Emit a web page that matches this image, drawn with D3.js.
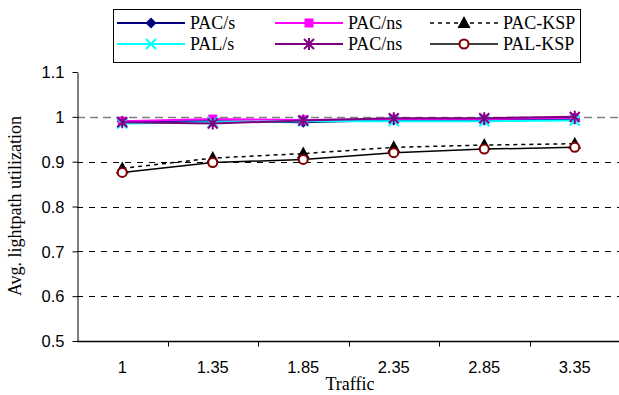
<!DOCTYPE html>
<html>
<head>
<meta charset="utf-8">
<script src="https://cdn.jsdelivr.net/npm/d3@7"></script>
<style>
  body { margin: 0; background: #fff; }
  svg { display: block; }
  .tick-label { font-family: "Liberation Sans", Arial, sans-serif; font-size: 16.5px; fill: #000; }
  .serif { font-family: "Liberation Serif", "Times New Roman", serif; font-size: 18px; fill: #000; }
</style>
</head>
<body>
<svg id="chart" width="619" height="395"></svg>
<script>
// Data
const traffic = ["1", "1.35", "1.85", "2.35", "2.85", "3.35"];
const yTicks = [0.5, 0.6, 0.7, 0.8, 0.9, 1, 1.1];

const pacS = [0.990, 0.990, 0.988, 0.993, 0.993, 0.995];
const pacNs = [0.990, 0.995, 0.993, 0.995, 0.995, 0.998];
const pacKsp = [0.885, 0.908, 0.918, 0.932, 0.937, 0.940];
const palS = [0.985, 0.988, 0.990, 0.990, 0.990, 0.992];
const pacNs2 = [0.988, 0.985, 0.992, 0.997, 0.997, 1.000];
const palKsp = [0.876, 0.898, 0.905, 0.920, 0.928, 0.932];

// Series, in legend order (row by row)
const series = [
    { name: "PAC/s", values: pacS, color: "#000080", marker: "diamond", width: 2 },
    { name: "PAC/ns", values: pacNs, color: "#FF00FF", marker: "square", width: 2 },
    { name: "PAC-KSP", values: pacKsp, color: "#000", marker: "triangle", width: 1.5, dash: "4,4" },
    { name: "PAL/s", values: palS, color: "#00FFFF", marker: "cross", width: 2 },
    { name: "PAC/ns", values: pacNs2, color: "#800080", marker: "star", width: 2 },
    { name: "PAL-KSP", values: palKsp, color: "#000", marker: "circle", width: 1.5 }
];

const svg = d3.select("#chart");
const margin = { left: 77, right: 0, top: 72, bottom: 54 };
const W = 619, H = 395;

const x = d3.scaleBand().domain(traffic).range([margin.left, 620]);
const y = d3.scaleLinear().domain([0.5, 1.1]).range([H - margin.bottom, margin.top]);

// Gridlines
svg.append("g")
    .selectAll("line")
    .data(yTicks.filter(d => d > 0.5 && d < 1.1))
    .enter().append("line")
    .attr("x1", margin.left).attr("x2", 619)
    .attr("y1", d => Math.round(y(d)) + 0.5).attr("y2", d => Math.round(y(d)) + 0.5)
    .attr("stroke", d => d === 1 ? "#808080" : "#000")
    .attr("stroke-width", d => d === 1 ? 1.5 : 1)
    .attr("stroke-dasharray", d => d === 1 ? "8,5" : "6,6");

// Y axis
const yAxis = svg.append("g")
    .attr("transform", `translate(${margin.left + 0.5},0)`)
    .call(d3.axisLeft(y).tickValues(yTicks).tickSize(5).tickSizeOuter(0)
        .tickFormat(d => d3.format("")(d)));
yAxis.select(".domain").attr("stroke", "#000");
yAxis.selectAll(".tick line").attr("stroke", "#000");
yAxis.selectAll(".tick text").attr("class", "tick-label").attr("x", -13).attr("dy", "0.35em");

// X axis
const xAxisY = Math.round(y(0.5)) + 0.5;
svg.append("line")
    .attr("x1", margin.left).attr("x2", 619)
    .attr("y1", xAxisY).attr("y2", xAxisY)
    .attr("stroke", "#000").attr("stroke-width", 1.5);
svg.append("g")
    .selectAll("line")
    .data(traffic.slice(1))
    .enter().append("line")
    .attr("x1", d => Math.round(x(d)) + 0.5).attr("x2", d => Math.round(x(d)) + 0.5)
    .attr("y1", xAxisY).attr("y2", xAxisY + 5)
    .attr("stroke", "#000");
svg.append("g")
    .selectAll("text")
    .data(traffic)
    .enter().append("text")
    .attr("class", "tick-label")
    .attr("x", d => x(d) + x.bandwidth() / 2)
    .attr("y", 373)
    .attr("text-anchor", "middle")
    .text(d => d);

// Axis titles
svg.append("text").attr("class", "serif")
    .attr("x", 350).attr("y", 390).attr("text-anchor", "middle")
    .text("Traffic");
svg.append("text").attr("class", "serif")
    .attr("transform", "translate(21,206) rotate(-90)")
    .attr("text-anchor", "middle")
    .text("Avg. lightpath utilization");

// Markers
function drawMarker(sel, type, color) {
    if (type === "diamond") {
        sel.append("path").attr("d", "M0,-5.5L5.5,0L0,5.5L-5.5,0Z").attr("fill", color);
    } else if (type === "square") {
        sel.append("rect").attr("x", -4.5).attr("y", -4.5).attr("width", 9).attr("height", 9).attr("fill", color);
    } else if (type === "triangle") {
        sel.append("path").attr("d", "M0,-7L6.5,5L-6.5,5Z").attr("fill", "#000");
    } else if (type === "cross") {
        sel.append("path").attr("d", "M-5,-5L5,5M5,-5L-5,5").attr("stroke", color).attr("stroke-width", 2);
    } else if (type === "star") {
        sel.append("path").attr("d", "M-5,-5L5,5M5,-5L-5,5M0,-6L0,6").attr("stroke", color).attr("stroke-width", 2);
    } else if (type === "circle") {
        sel.append("circle").attr("r", 4.5).attr("fill", "#fff").attr("stroke", "#800000").attr("stroke-width", 2);
    }
}

const line = d3.line()
    .x((d, i) => x(traffic[i]) + x.bandwidth() / 2)
    .y(d => y(d));

series.forEach(s => {
    svg.append("path")
        .datum(s.values)
        .attr("fill", "none")
        .attr("stroke", s.color)
        .attr("stroke-width", s.width)
        .attr("stroke-dasharray", s.dash || null)
        .attr("d", line);
    s.values.forEach((v, i) => {
        const g = svg.append("g")
            .attr("transform", `translate(${x(traffic[i]) + x.bandwidth() / 2},${y(v)})`);
        drawMarker(g, s.marker, s.color);
    });
});

// Legend
const legend = svg.append("g");
legend.append("rect")
    .attr("x", 113.5).attr("y", 9.5).attr("width", 467).attr("height", 53)
    .attr("fill", "#fff").attr("stroke", "#000").attr("stroke-width", 1);

const colX = [117, 275, 430];
const rowY = [23, 44];
series.forEach((s, i) => {
    const cx = colX[i % 3], cy = rowY[Math.floor(i / 3)];
    const item = legend.append("g").attr("transform", `translate(${cx},${cy})`);
    item.append("line")
        .attr("x1", 0).attr("x2", 68)
        .attr("y1", 0).attr("y2", 0)
        .attr("stroke", s.color).attr("stroke-width", s.width)
        .attr("stroke-dasharray", s.dash || null);
    drawMarker(item.append("g").attr("transform", "translate(34,0)"), s.marker, s.color);
    item.append("text").attr("class", "serif")
        .attr("x", 73).attr("y", 6)
        .text(s.name);
});
</script>
</body>
</html>
